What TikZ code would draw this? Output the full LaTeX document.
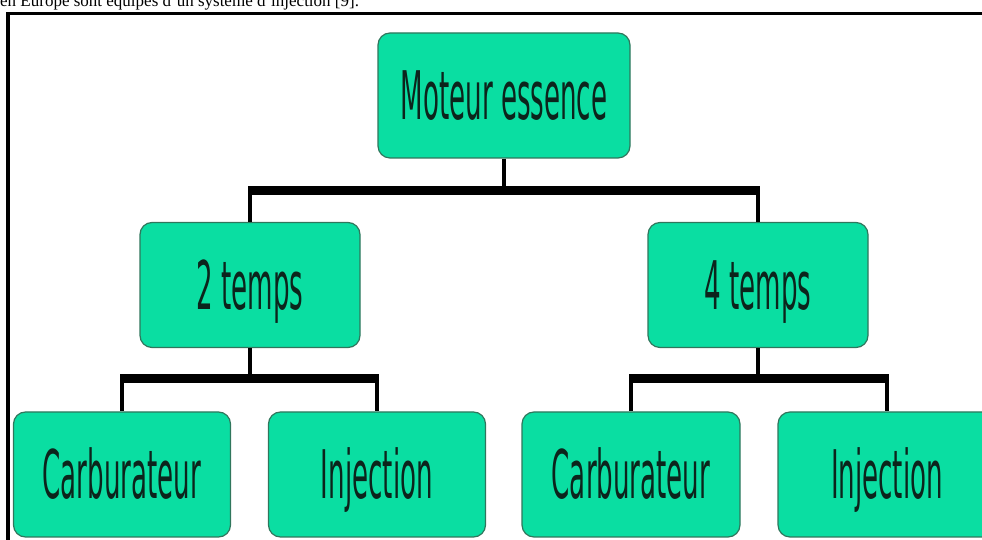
\documentclass[tikz,border=0pt]{standalone}
\usepackage{fontspec}
\usepackage{xcolor}
\usepackage{tikz}
\usetikzlibrary{calc,positioning}
\setmainfont{Liberation Serif}
\newfontfamily\boxfont[FakeStretch=0.39]{DejaVu Sans}
\definecolor{boxFill}{RGB}{10, 222, 162}
\definecolor{boxEdge}{RGB}{48, 118, 92}
\definecolor{labelColor}{RGB}{12, 36, 28}

\tikzset{
    engineBox/.style={draw=boxEdge, line width=1.2pt, fill=boxFill, rounded corners=12pt,
        inner sep=0pt, text=labelColor, font=\boxfont\fontsize{67}{67}\selectfont,
        text height=49pt, text depth=0pt, minimum height=125pt},
    stem/.style={line width=4pt},
    bus/.style={line width=9pt, shorten <=-2pt, shorten >=-2pt}
}

\begin{document}
\begin{tikzpicture}[x=1pt, y=1pt]
            \useasboundingbox (0,0) rectangle (982,540);
            \clip (0,0) rectangle (982,540);

            % Text of the page above the frame (cut at the top)
            \node[anchor=base west, inner sep=0pt, font=\fontsize{17}{19}\selectfont] (intro) at (0,533.5)
                {en Europe sont équipés d'un système d'injection [9].};

            % Frame
            \draw[line width=3.5pt] (8,0) -- (8,526.5) -- (990,526.5);

            % Root
            \node[engineBox, minimum width=252pt] (moteur) at (504,444.5) {Moteur essence};

            % Second level
            \node[engineBox, minimum width=220pt] (deux) at (250,255) {2 temps};
            \node[engineBox, minimum width=220pt] (quatre) at (758,255) {4 temps};

            % Third level
            \node[engineBox, minimum width=217pt] (carbDeux) at (122,65.5) {Carburateur};
            \node[engineBox, minimum width=217pt] (injDeux) at (377,65.5) {Injection};
            \node[engineBox, minimum width=218pt] (carbQuatre) at (631,65.5) {Carburateur};
            \node[engineBox, minimum width=218pt] (injQuatre) at (887,65.5) {Injection};

            % Joints of the tree
            \coordinate (jointRoot) at (504,349);
            \coordinate (jointDeux) at (250,161);
            \coordinate (jointQuatre) at (758,161);

            % Root to second level
            \draw[stem] (moteur.south) -- (jointRoot);
            \draw[bus] (deux.north |- jointRoot) -- (quatre.north |- jointRoot);
            \draw[stem] (deux.north |- jointRoot) -- (deux.north);
            \draw[stem] (quatre.north |- jointRoot) -- (quatre.north);

            % 2 temps to its children
            \draw[stem] (deux.south) -- (jointDeux);
            \draw[bus] (carbDeux.north |- jointDeux) -- (injDeux.north |- jointDeux);
            \draw[stem] (carbDeux.north |- jointDeux) -- (carbDeux.north);
            \draw[stem] (injDeux.north |- jointDeux) -- (injDeux.north);

            % 4 temps to its children
            \draw[stem] (quatre.south) -- (jointQuatre);
            \draw[bus] (carbQuatre.north |- jointQuatre) -- (injQuatre.north |- jointQuatre);
            \draw[stem] (carbQuatre.north |- jointQuatre) -- (carbQuatre.north);
            \draw[stem] (injQuatre.north |- jointQuatre) -- (injQuatre.north);
        \end{tikzpicture}
\end{document}
